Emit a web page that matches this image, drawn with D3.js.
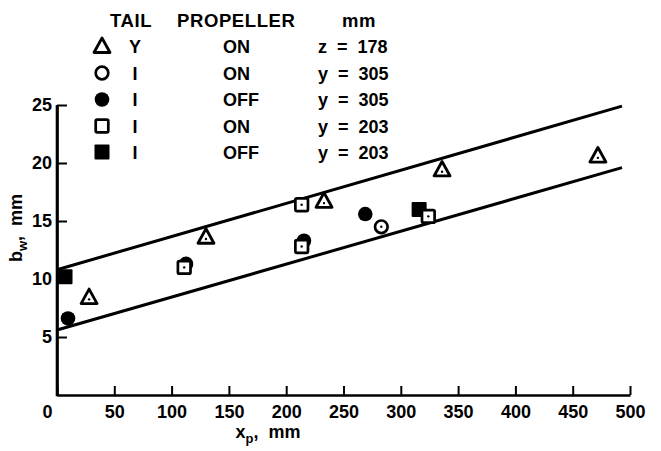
<!DOCTYPE html>
<html><head><meta charset="utf-8">
<script src="https://cdn.jsdelivr.net/npm/d3@7"></script>
<style>
body{margin:0;background:#fff}
svg{display:block}
text{font-family:"Liberation Sans",Arial,Helvetica,sans-serif;font-weight:bold;fill:#000}
</style>
</head><body>
<svg id="c" width="661" height="451"></svg>
<script>
// ---- data ----
const xTicks = [0, 50, 100, 150, 200, 250, 300, 350, 400, 450, 500];
const yTicks = [5, 10, 15, 20, 25];

const triX = [28, 130, 233, 336, 472];
const triY = [8.4, 13.6, 16.7, 19.4, 20.6];
const openCircX = [283];
const openCircY = [14.5];
const fillCircX = [9.6, 112.6, 215.5, 269];
const fillCircY = [6.6, 11.3, 13.3, 15.6];
const openSqX = [111, 213.5, 213.5, 324];
const openSqY = [11.0, 16.4, 12.8, 15.4];
const fillSqX = [7, 316];
const fillSqY = [10.2, 16.0];

const upperLineX = [0, 493];
const upperLineY = [10.8, 24.9];
const lowerLineX = [0, 493];
const lowerLineY = [5.6, 19.6];

const legendHeaders = ["TAIL", "PROPELLER", "mm"];
const legendSymbols = ["triangle", "openCircle", "fillCircle", "openSquare", "fillSquare"];
const legendTail = ["Y", "I", "I", "I", "I"];
const legendProp = ["ON", "ON", "OFF", "ON", "OFF"];
const legendMm = ["z  =  178", "y  =  305", "y  =  305", "y  =  203", "y  =  203"];

// ---- drawing ----
const svg = d3.select("#c");
const x = d3.scaleLinear().domain([0, 500]).range([57, 630]);
const y = d3.scaleLinear().domain([0, 25]).range([395, 105]);

function marker(g, type, cx, cy, withDot) {
  const s = g.append("g").attr("transform", `translate(${cx},${cy})`);
  if (type === "triangle") {
    s.append("path").attr("d", "M0,-8.5L8,6L-8,6Z")
      .attr("fill", "#fff").attr("stroke", "#000").attr("stroke-width", 2.8).attr("stroke-linejoin", "round");
    if (withDot) s.append("circle").attr("cy", 1.8).attr("r", 1.2).attr("fill", "#000");
  } else if (type === "openCircle") {
    s.append("circle").attr("r", 6.3).attr("fill", "#fff").attr("stroke", "#000").attr("stroke-width", 2.7);
    if (withDot) s.append("circle").attr("r", 1.2).attr("fill", "#000");
  } else if (type === "fillCircle") {
    s.append("circle").attr("r", 7.3).attr("fill", "#000");
  } else if (type === "openSquare") {
    s.append("rect").attr("x", -6.3).attr("y", -6.3).attr("width", 12.6).attr("height", 12.6).attr("rx", 1.5)
      .attr("fill", "#fff").attr("stroke", "#000").attr("stroke-width", 2.7);
    if (withDot) s.append("circle").attr("r", 1.2).attr("fill", "#000");
  } else if (type === "fillSquare") {
    s.append("rect").attr("x", -7.5).attr("y", -7.5).attr("width", 15).attr("height", 15).attr("rx", 1).attr("fill", "#000");
  }
}

// lines
const line = d3.line().x(d => x(d[0])).y(d => y(d[1]));
svg.append("path").datum(d3.zip(upperLineX, upperLineY)).attr("d", line)
  .attr("fill", "none").attr("stroke", "#000").attr("stroke-width", 3);
svg.append("path").datum(d3.zip(lowerLineX, lowerLineY)).attr("d", line)
  .attr("fill", "none").attr("stroke", "#000").attr("stroke-width", 3);

// axes
const xAxis = svg.append("g").attr("transform", `translate(0,${y(0)})`)
  .call(d3.axisBottom(x).tickValues(xTicks).tickSizeInner(-9).tickSizeOuter(0).tickPadding(10).tickFormat(d3.format("d")));
const yAxis = svg.append("g").attr("transform", `translate(${x(0)},0)`)
  .call(d3.axisLeft(y).tickValues(yTicks).tickSizeInner(-10).tickSizeOuter(0).tickPadding(5).tickFormat(d3.format("d")));
[xAxis, yAxis].forEach(a => {
  a.select(".domain").attr("stroke", "#000").attr("stroke-width", 2.6);
  a.selectAll(".tick line").attr("stroke", "#000").attr("stroke-width", 2);
  a.selectAll(".tick text").attr("font-size", 18).attr("font-family", null).attr("fill", "#000");
});
xAxis.selectAll(".tick").filter(d => d === 0).select("text").attr("dx", -10);
// extend y axis line down to meet x axis corner
svg.append("line").attr("x1", x(0)).attr("x2", x(0)).attr("y1", y(25)).attr("y2", y(0) + 1.3)
  .attr("stroke", "#000").attr("stroke-width", 2.6);

// markers: filled first, open on top
const plot = svg.append("g");
fillCircX.forEach((v, i) => marker(plot, "fillCircle", x(v), y(fillCircY[i]), false));
fillSqX.forEach((v, i) => marker(plot, "fillSquare", x(v), y(fillSqY[i]), false));
openSqX.forEach((v, i) => marker(plot, "openSquare", x(v), y(openSqY[i]), true));
openCircX.forEach((v, i) => marker(plot, "openCircle", x(v), y(openCircY[i]), true));
triX.forEach((v, i) => marker(plot, "triangle", x(v), y(triY[i]), true));

// axis titles
const xt = svg.append("text").attr("x", 268).attr("y", 438).attr("text-anchor", "middle").attr("font-size", 18);
xt.append("tspan").text("x");
xt.append("tspan").attr("font-size", 13).attr("dy", 5).text("p");
xt.append("tspan").attr("dy", -5).text(",  mm").attr("style", "white-space:pre");

const yt = svg.append("text").attr("transform", "translate(22,228) rotate(-90)").attr("text-anchor", "middle").attr("font-size", 18);
yt.append("tspan").text("b");
yt.append("tspan").attr("font-size", 13).attr("dy", 5).text("w");
yt.append("tspan").attr("dy", -5).text(",  mm").attr("style", "white-space:pre");

// legend
const lg = svg.append("g");
const headerX = [110, 177, 342];
legendHeaders.forEach((h, i) => lg.append("text").attr("x", headerX[i]).attr("y", 27)
  .attr("font-size", 18.5).attr("letter-spacing", 0.6).text(h));
const rowY = [46.5, 73, 99.5, 126, 152];
legendSymbols.forEach((s, i) => {
  marker(lg, s, 102, rowY[i], false);
  lg.append("text").attr("x", 135).attr("y", rowY[i] + 6.5).attr("text-anchor", "middle").attr("font-size", 18).text(legendTail[i]);
  lg.append("text").attr("x", 223).attr("y", rowY[i] + 6.5).attr("font-size", 18).text(legendProp[i]);
  lg.append("text").attr("x", 318).attr("y", rowY[i] + 6.5).attr("font-size", 18).attr("style", "white-space:pre").text(legendMm[i]);
});
</script>
</body></html>
